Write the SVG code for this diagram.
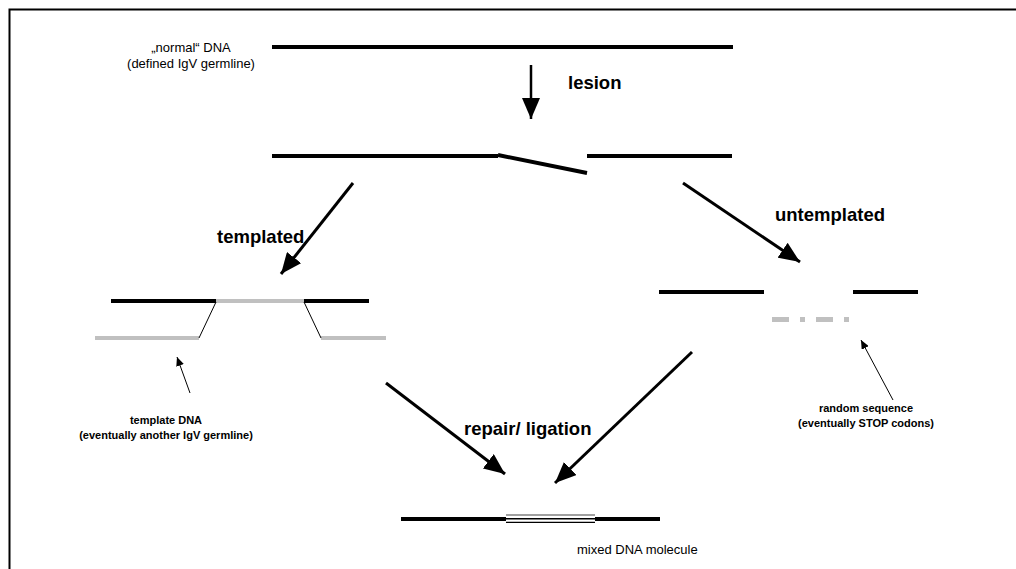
<svg xmlns="http://www.w3.org/2000/svg" width="1016" height="569" viewBox="0 0 1016 569">
<defs>
<style>
.dna{stroke:#000;stroke-width:4;fill:none}
.gry{stroke:#c0c0c0;stroke-width:4;fill:none}
.thin{stroke:#000;stroke-width:1;fill:none}
.arr{stroke:#000;stroke-width:3;fill:none}
.lbl{font-family:"Liberation Sans",Arial,sans-serif;font-weight:bold;font-size:18.5px;fill:#000}
.sm{font-family:"Liberation Sans",Arial,sans-serif;font-weight:bold;font-size:11px;fill:#000;text-anchor:middle}
.rg{font-family:"Liberation Sans",Arial,sans-serif;font-size:13px;fill:#000}
</style>
<marker id="ah" markerUnits="userSpaceOnUse" markerWidth="22" markerHeight="18" refX="21" refY="9" orient="auto">
<path d="M0,0 L21,9 L0,18 Z" fill="#000"/>
</marker>
<marker id="ahs" markerUnits="userSpaceOnUse" markerWidth="10" markerHeight="8" refX="9" refY="4" orient="auto">
<path d="M0,0 L9,4 L0,8 Z" fill="#000"/>
</marker>
</defs>
<rect width="1016" height="569" fill="#fff"/>
<path d="M9.5,569 V9.5 H1016" stroke="#000" stroke-width="2" fill="none"/>

<g id="normal-dna">
<line class="dna" x1="272" y1="47" x2="733" y2="47"/>
<text class="rg" x="191" y="52" text-anchor="middle">„normal“ DNA</text>
<text class="rg" x="191" y="68" text-anchor="middle">(defined IgV germline)</text>
</g>

<g id="lesion-dna">
<line class="dna" x1="272" y1="156" x2="498" y2="156"/>
<line class="dna" x1="498" y1="155" x2="587" y2="173"/>
<line class="dna" x1="587" y1="156" x2="732" y2="156"/>
</g>

<g id="templated-dna">
<line class="dna" x1="111" y1="301" x2="216" y2="301"/>
<line class="gry" x1="216" y1="301" x2="304" y2="301"/>
<line class="dna" x1="304" y1="301" x2="369" y2="301"/>
<line class="gry" x1="95" y1="338" x2="199" y2="338"/>
<line class="gry" x1="321" y1="338" x2="386" y2="338"/>
<line class="thin" x1="216" y1="302" x2="199" y2="338"/>
<line class="thin" x1="304" y1="302" x2="321" y2="338"/>
</g>

<g id="untemplated-dna">
<line class="dna" x1="659" y1="292" x2="764" y2="292"/>
<line class="dna" x1="853" y1="292" x2="918" y2="292"/>
<line stroke="#c0c0c0" stroke-width="5" x1="772" y1="319.5" x2="850" y2="319.5" stroke-dasharray="17 11 5 11"/>
</g>

<g id="template-label">
<text class="sm" x="166" y="424">template DNA</text>
<text class="sm" x="166" y="439">(eventually another IgV germline)</text>
</g>

<g id="random-label">
<text class="sm" x="866" y="412">random sequence</text>
<text class="sm" x="866" y="427">(eventually STOP codons)</text>
</g>

<g id="mixed-dna">
<line class="dna" x1="401" y1="519" x2="660" y2="519"/>
<rect x="506" y="513.5" width="89" height="11" fill="#fff"/>
<line stroke="#808080" stroke-width="1.3" x1="506" y1="515" x2="595" y2="515"/>
<line stroke="#000" stroke-width="1.6" x1="506" y1="518.8" x2="595" y2="518.8"/>
<line stroke="#000" stroke-width="1.2" x1="506" y1="522.4" x2="595" y2="522.4"/>
<text class="rg" x="577" y="554" font-size="11.5">mixed DNA molecule</text>
</g>

<g id="connectors">
<line x1="531" y1="65" x2="531" y2="119" stroke="#000" stroke-width="2.5" marker-end="url(#ah)"/>
<line class="arr" x1="353" y1="183" x2="281" y2="274" marker-end="url(#ah)"/>
<line class="arr" x1="683" y1="183" x2="800" y2="262" marker-end="url(#ah)"/>
<line class="arr" x1="386" y1="383" x2="505" y2="474" marker-end="url(#ah)"/>
<line class="arr" x1="692" y1="352" x2="555" y2="483" marker-end="url(#ah)"/>
<line class="thin" x1="190" y1="393" x2="177" y2="357" marker-end="url(#ahs)"/>
<line class="thin" x1="893" y1="400" x2="861" y2="340" marker-end="url(#ahs)"/>
</g>

<g id="labels">
<text class="lbl" x="568" y="89">lesion</text>
<text class="lbl" x="217" y="243">templated</text>
<text class="lbl" x="775" y="221">untemplated</text>
<text class="lbl" x="464" y="435">repair/ ligation</text>
</g>
</svg>
